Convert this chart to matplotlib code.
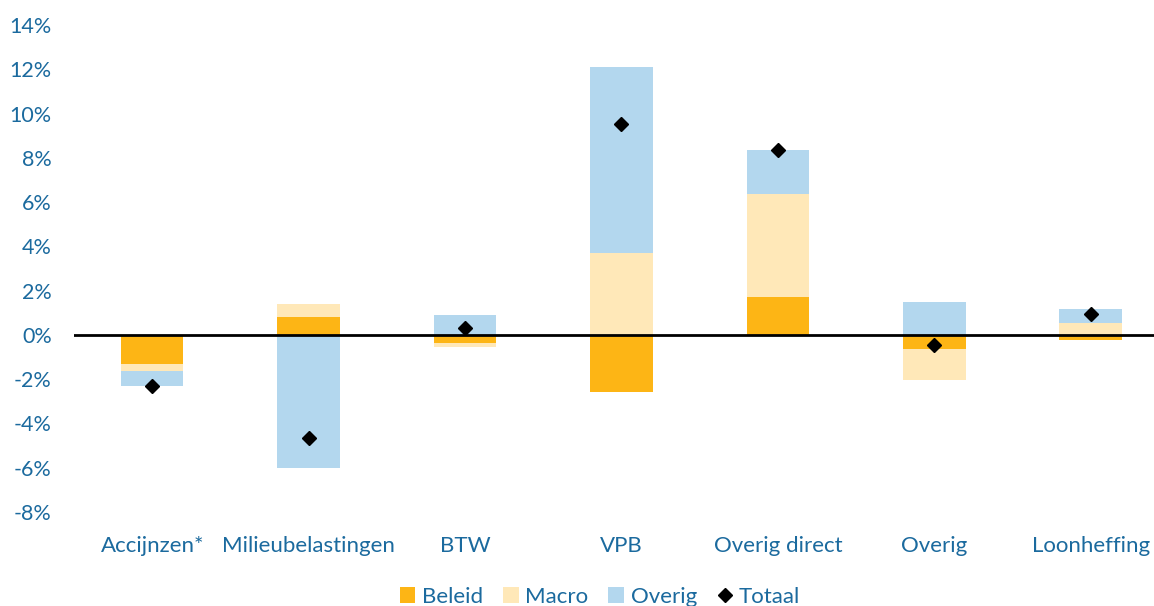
import numpy as np
import matplotlib.pyplot as plt

categories = ['Accijnzen*', 'Milieubelastingen', 'BTW', 'VPB', 'Overig direct', 'Overig', 'Loonheffing']
beleid = [-1.3, 0.8, -0.35, -2.6, 1.7, -0.65, -0.25]
macro = [-0.33, 0.6, -0.2, 3.7, 4.65, -1.38, 0.53]
overig = [-0.67, -6.0, 0.9, 8.4, 2.0, 1.5, 0.63]
totaal = [-2.3, -4.65, 0.3, 9.55, 8.35, -0.45, 0.95]
yticks = [-8, -6, -4, -2, 0, 2, 4, 6, 8, 10, 12, 14]

c_beleid = '#FDB515'
c_macro = '#FFE8B8'
c_overig = '#B3D7EE'
c_text = '#1B6A9E'

plt.rcParams['font.family'] = ['Lato', 'DejaVu Sans']

fig = plt.figure(figsize=(11.54, 6.06), dpi=100)
ax = fig.add_axes([74 / 1154, 1 - 512 / 606, 1095 / 1154, 487 / 606])

x = np.arange(len(categories))
w = 0.4

# Excel-style stacking: positives stack up, negatives stack down
pos_base = np.zeros(len(x))
neg_base = np.zeros(len(x))
handles = []
for vals, col, lab in [(beleid, c_beleid, 'Beleid'), (macro, c_macro, 'Macro'), (overig, c_overig, 'Overig')]:
    vals = np.array(vals)
    bottoms = np.where(vals >= 0, pos_base, neg_base)
    h = ax.bar(x, vals, w, bottom=bottoms, color=col, label=lab, zorder=2)
    handles.append(h)
    pos_base = pos_base + np.where(vals >= 0, vals, 0)
    neg_base = neg_base + np.where(vals < 0, vals, 0)

h, = ax.plot(x, totaal, linestyle='none', marker='D', color='black', markersize=7, label='Totaal', zorder=4)
handles.append(h)
ax.axhline(0, color='black', linewidth=2, zorder=3)

ax.set_xlim(-0.5, len(x) - 0.5)
ax.set_ylim(-8, 14)
ax.set_yticks(yticks)
ax.set_yticklabels([f'{t}%' for t in yticks], color=c_text, fontsize=15.5)
ax.set_xticks(x)
ax.set_xticklabels(categories, color=c_text, fontsize=16)
ax.tick_params(axis='both', length=0)
ax.tick_params(axis='y', pad=16)
ax.tick_params(axis='x', pad=17)
for s in ax.spines.values():
    s.set_visible(False)

leg = fig.legend(handles=handles, loc='center', bbox_to_anchor=(600 / 1154, 1 - 597 / 606), ncol=4,
                 frameon=False, fontsize=16, handlelength=0.7, handleheight=0.7, handletextpad=0.3,
                 columnspacing=0.9)
for t in leg.get_texts():
    t.set_color(c_text)

plt.savefig('out.png', dpi=100)
plt.close()
